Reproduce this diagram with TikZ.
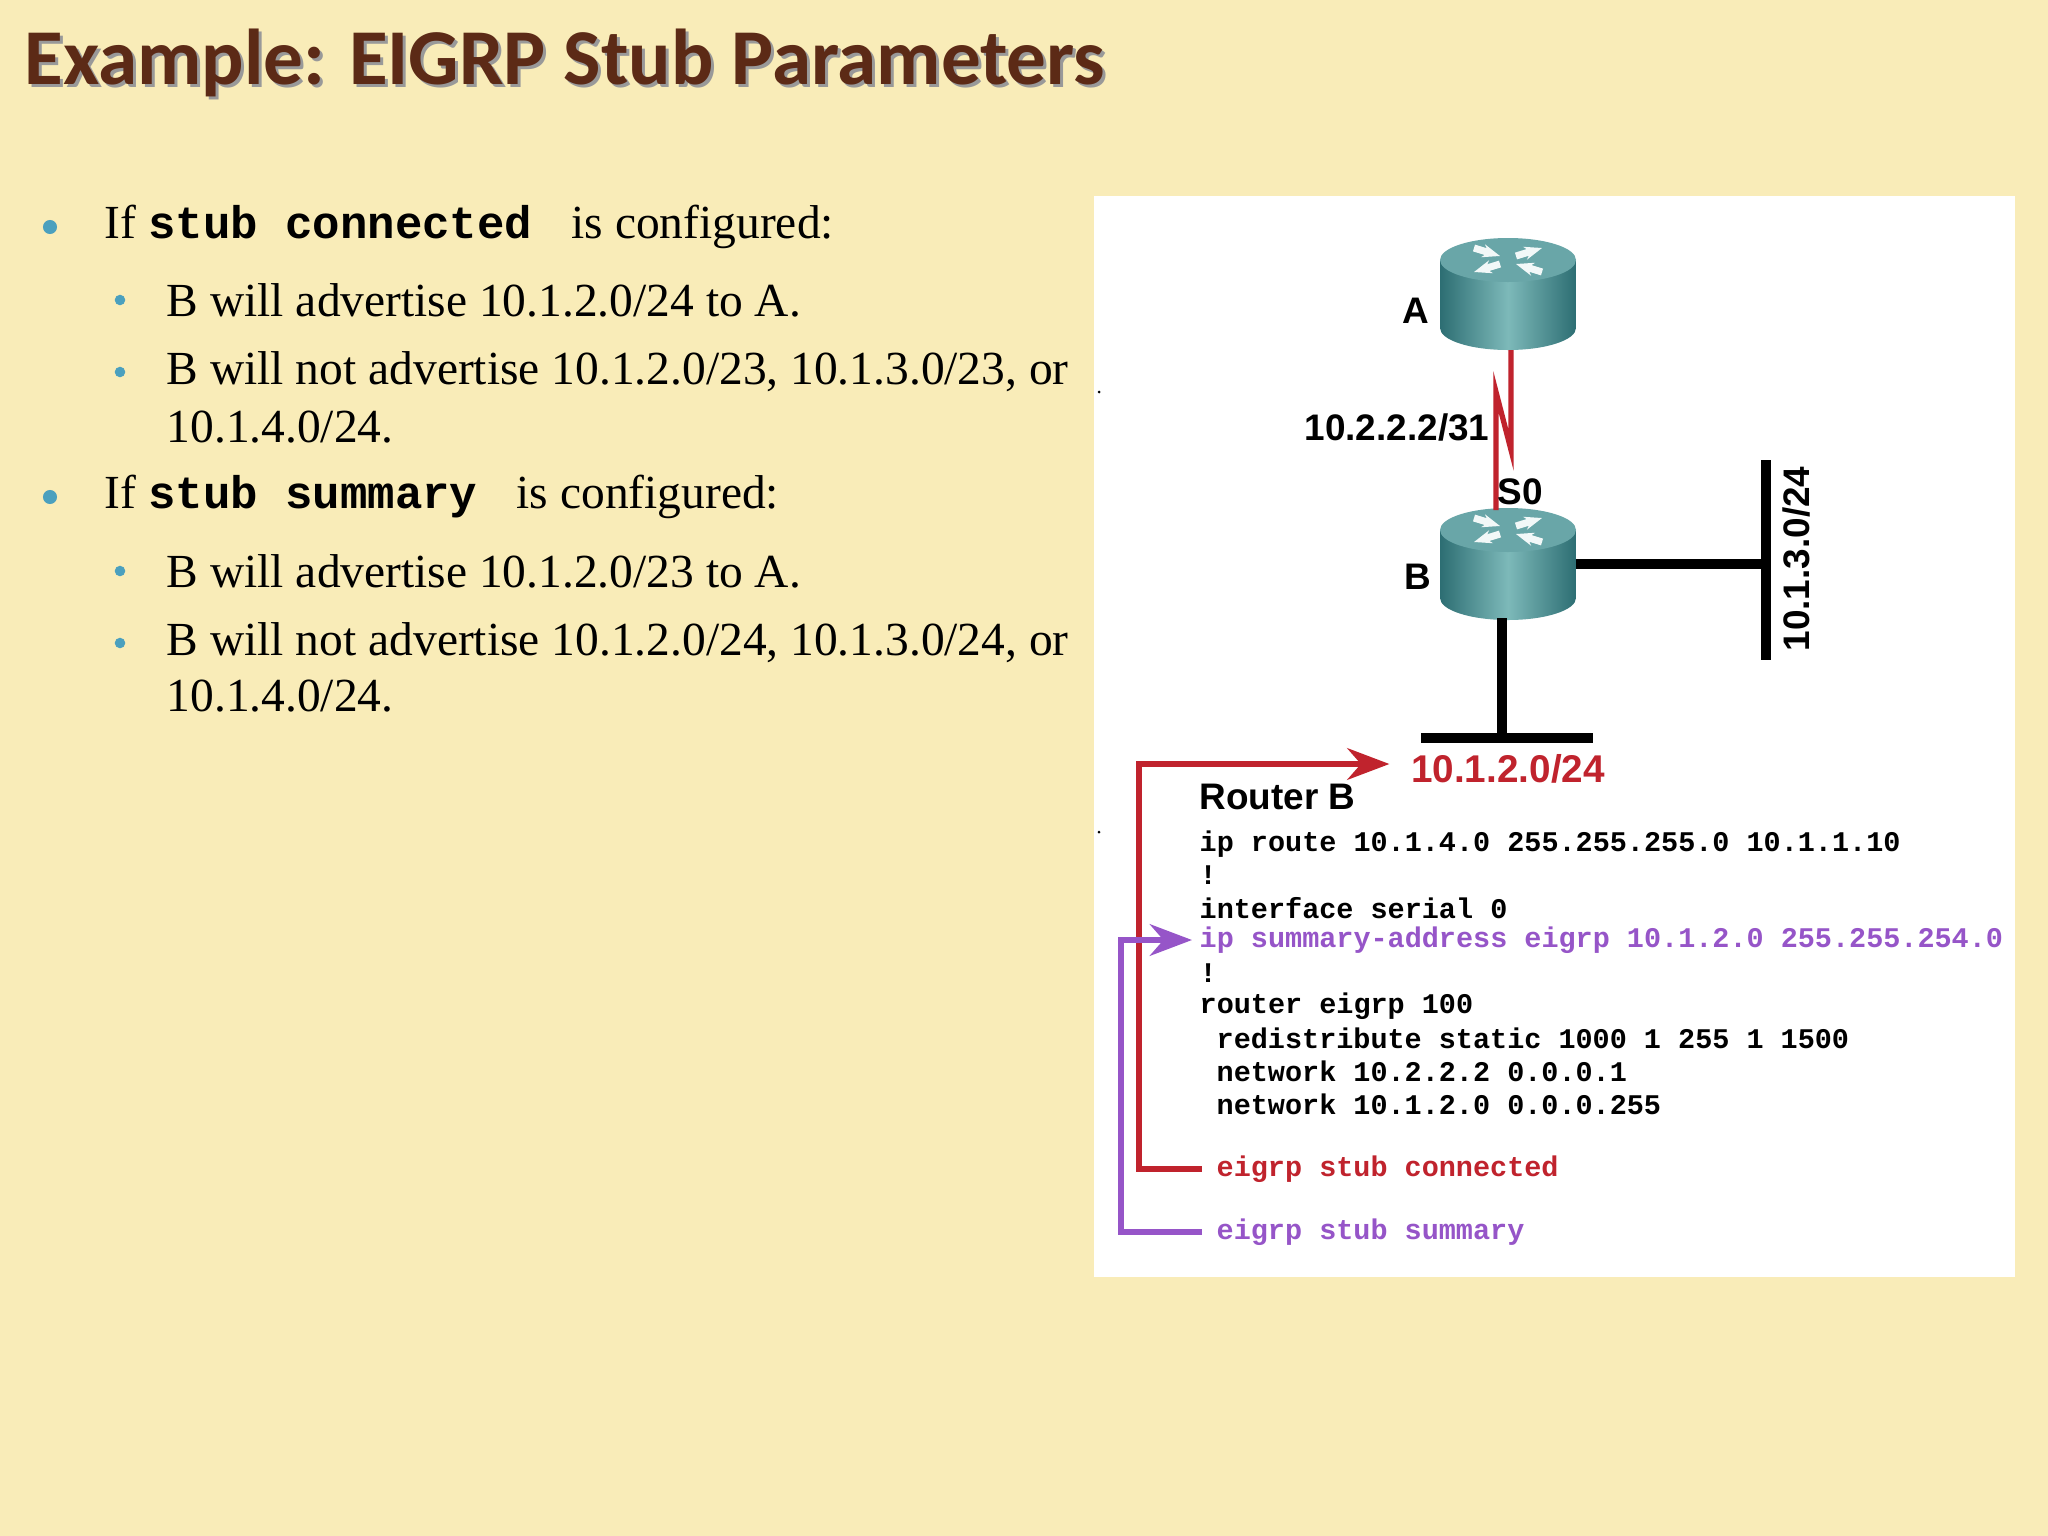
\documentclass[tikz,border=0pt]{standalone}
\usepackage{fontspec}
\setmainfont{Liberation Serif}
\newfontfamily\titlef{Carlito}
\newfontfamily\arialf{Liberation Sans}
\setmonofont{Liberation Mono}
\usetikzlibrary{arrows.meta}
\definecolor{bgy}{RGB}{249,236,184}
\definecolor{ttl}{RGB}{92,42,22}
\definecolor{bul}{RGB}{75,160,190}
\definecolor{rred}{RGB}{192,35,45}
\definecolor{ppl}{RGB}{150,85,200}
\definecolor{tealD}{RGB}{45,110,115}
\definecolor{tealL}{RGB}{125,185,185}
\tikzset{
 btxt/.style={anchor=west,inner sep=0pt,font=\fontsize{13.5}{16}\selectfont},
 bdot/.style={circle,fill=bul,inner sep=0pt,minimum size=4pt},
 sdot/.style={circle,fill=bul,inner sep=0pt,minimum size=3pt},
 lbl/.style={inner sep=0pt,font=\arialf\bfseries\fontsize{10.5}{12}\selectfont},
 code/.style={anchor=west,inner sep=0pt,font=\ttfamily\bfseries\fontsize{8.1}{10}\selectfont},
 net/.style={line width=2.8pt,black},
 lnk/.style={line width=1.5pt,rred},
}
\newcommand{\rtr}[2]{%
 \begin{scope}[shift={#1}]
 \shade[left color=tealD,right color=tealD,middle color=tealL] (-68,-34) -- (-68,34) arc[start angle=180,end angle=0,x radius=68,y radius=22] -- (68,-34) -- cycle;
 \fill[tealL!75!tealD] (0,-34) ellipse[x radius=68,y radius=22];
 \draw[white!90!tealL,line width=2pt,-{Stealth[length=5pt]}] (-34,-46)--(-8,-38);
 \draw[white!90!tealL,line width=2pt,-{Stealth[length=5pt]}] (34,-22)--(8,-30);
 \draw[white!90!tealL,line width=2pt,-{Stealth[length=5pt]}] (8,-38)--(34,-46);
 \draw[white!90!tealL,line width=2pt,-{Stealth[length=5pt]}] (-8,-30)--(-34,-22);
 \coordinate (#2t) at (0,-56); \coordinate (#2b) at (3,56);
 \end{scope}}
\begin{document}
\begin{tikzpicture}[x=0.01cm,y=-0.01cm]
\fill[bgy] (0,0) rectangle (2048,1536);
\useasboundingbox (0,0) rectangle (2048,1536);
\node[anchor=west,inner sep=0pt,text=black!40,font=\titlef\bfseries\fontsize{22.5}{26}\selectfont] (tsh) at (27,66) {Example: EIGRP Stub Parameters};
\node[anchor=west,inner sep=0pt,text=ttl,font=\titlef\bfseries\fontsize{22.5}{26}\selectfont] (title) at (24,63) {Example: EIGRP Stub Parameters};
% bullets
\node[bdot] (d1) at (50,227) {};
\node[btxt] (t1) at (104,227) {If \texttt{\bfseries\fontsize{13}{16}\selectfont stub connected\ } is configured:};
\node[sdot] (d2) at (120,300) {};
\node[btxt] (t2) at (166,300) {B will advertise 10.1.2.0/24 to A.};
\node[sdot] (d3) at (120,372) {};
\node[btxt] (t3) at (166,372) {B will not advertise 10.1.2.0/23, 10.1.3.0/23, or};
\node[btxt] (t3b) at (166,427) {10.1.4.0/24.};
\node[bdot] (d4) at (50,497) {};
\node[btxt] (t4) at (104,497) {If \texttt{\bfseries\fontsize{13}{16}\selectfont stub summary\ } is configured:};
\node[sdot] (d5) at (120,571) {};
\node[btxt] (t5) at (166,571) {B will advertise 10.1.2.0/23 to A.};
\node[sdot] (d6) at (120,643) {};
\node[btxt] (t6) at (166,643) {B will not advertise 10.1.2.0/24, 10.1.3.0/24, or};
\node[btxt] (t6b) at (166,696) {10.1.4.0/24.};
% panel
\fill[white] (1094,196) rectangle (2015,1277);
\fill[black] (1099,392) circle (1.5) (1099,832) circle (1.5);
\rtr{(1508,294)}{ra}
\rtr{(1508,564)}{rb}
\coordinate (z1) at (1511,450); \coordinate (z2) at (1496,392);
\coordinate (rbt2) at (1496,510);
\draw[lnk] (rab) -- (z1) -- (z2) -- (rbt2);
\node[lbl] (la) at (1416,311) {A};
\node[lbl] (lb) at (1418,577) {B};
\node[lbl] (lip) at (1397,427) {10.2.2.2/31};
\node[lbl] (ls0) at (1520,492) {S0};
\coordinate (br) at (1576,564); \coordinate (bd) at (1502,618);
\coordinate (rbar) at (1766,564); \coordinate (dbar) at (1502,738);
\draw[net] (br) -- (rbar); \draw[net] (1766,460) -- (1766,660);
\draw[net] (bd) -- (dbar); \draw[net] (1421,738) -- (1593,738);
\node[lbl,rotate=90] (l13) at (1796,559) {10.1.3.0/24};
\node[lbl,text=rred,font=\arialf\bfseries\fontsize{11}{12}\selectfont] (l12) at (1508,769) {10.1.2.0/24};
\node[anchor=west,inner sep=0pt,font=\arialf\bfseries\fontsize{10.5}{12}\selectfont] (rbh) at (1199,797) {Router B};
\node[code] (c1) at (1199,844) {ip route 10.1.4.0 255.255.255.0 10.1.1.10};
\node[code] (c2) at (1199,875) {!};
\node[code] (c3) at (1199,908) {interface serial 0};
\node[code,text=ppl] (c4) at (1199,940) {ip summary-address eigrp 10.1.2.0 255.255.254.0};
\node[code] (c5) at (1199,973) {!};
\node[code] (c6) at (1199,1006) {router eigrp 100};
\node[code] (c7) at (1216,1038) {redistribute static 1000 1 255 1 1500};
\node[code] (c8) at (1216,1071) {network 10.2.2.2 0.0.0.1};
\node[code] (c9) at (1216,1104) {network 10.1.2.0 0.0.0.255};
\node[code,text=rred] (c10) at (1216,1169) {eigrp stub connected};
\node[code,text=ppl] (c11) at (1216,1232) {eigrp stub summary};
\coordinate (rc) at (1139,764);
\coordinate (ah) at ([xshift=-6]l12.west);
\coordinate (pc) at (1121,940);
\coordinate (ph) at ([xshift=-2]c4.west);
\draw[rred,line width=1.6pt,-{Stealth[length=12pt,width=9pt]}] ([xshift=-4]c10.west) -- (c10.west -| rc) -- (rc) -- (ah |- rc);
\draw[ppl,line width=1.6pt,-{Stealth[length=12pt,width=9pt]}] ([xshift=-4]c11.west) -- (c11.west -| pc) -- (pc) -- (ph |- pc);
\end{tikzpicture}
\end{document}
